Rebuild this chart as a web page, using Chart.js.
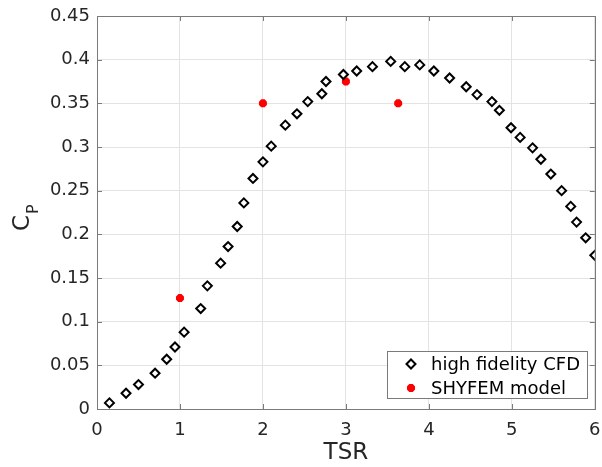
<!DOCTYPE html>
<html><head><meta charset="utf-8">
<script src="https://cdn.jsdelivr.net/npm/chart.js@4"></script>
<style>html,body{margin:0;padding:0;background:#fff}#wrap{width:602px;height:467px}</style>
</head><body><div id="wrap"><canvas id="c" width="602" height="467"></canvas></div>
<script>
// ---- data ----
const tsrCfd = [0.15, 0.35, 0.50, 0.70, 0.84, 0.94, 1.05, 1.25, 1.33, 1.49, 1.58, 1.69, 1.77, 1.88, 2.00, 2.10, 2.27, 2.41, 2.54, 2.71, 2.76, 2.97, 3.13, 3.32, 3.54, 3.71, 3.89, 4.06, 4.25, 4.45, 4.58, 4.76, 4.85, 4.99, 5.10, 5.25, 5.35, 5.47, 5.60, 5.71, 5.78, 5.89, 6.00];
const cpCfd  = [0.007, 0.018, 0.028, 0.041, 0.057, 0.071, 0.088, 0.115, 0.141, 0.167, 0.186, 0.209, 0.236, 0.264, 0.283, 0.301, 0.325, 0.338, 0.352, 0.361, 0.375, 0.383, 0.387, 0.392, 0.398, 0.392, 0.394, 0.387, 0.379, 0.369, 0.360, 0.352, 0.342, 0.322, 0.311, 0.299, 0.286, 0.269, 0.250, 0.232, 0.214, 0.196, 0.176];
const tsrShyfem = [1.00, 2.00, 3.00, 3.63];
const cpShyfem  = [0.127, 0.350, 0.375, 0.350];
const seriesNames = ['high fidelity CFD', 'SHYFEM model'];
const xTickValues = [0, 1, 2, 3, 4, 5, 6];
const yTickValues = [0, 0.05, 0.1, 0.15, 0.2, 0.25, 0.3, 0.35, 0.4, 0.45];
const xTitle = 'TSR';
const yTitleMain = 'C';
const yTitleSub = 'P';

const FONT = '"DejaVu Sans", sans-serif';
const AXIS_COLOR = '#7a7a7a';
const TEXT_COLOR = '#262626';

const toPts = (xs, ys) => xs.map((x, i) => ({x, y: ys[i]}));

const decorPlugin = {
  id: 'decor',
  afterDraw(chart) {
    const ctx = chart.ctx;
    const a = chart.chartArea;
    const xs = chart.scales.x, ys = chart.scales.y;
    ctx.save();
    // box
    ctx.strokeStyle = AXIS_COLOR;
    ctx.lineWidth = 1;
    ctx.strokeRect(Math.round(a.left) + 0.5, Math.round(a.top) + 0.5, Math.round(a.right - a.left), Math.round(a.bottom - a.top));
    // inward ticks
    const tl = 5;
    ctx.beginPath();
    xTickValues.forEach(v => {
      const px = Math.round(xs.getPixelForValue(v)) + 0.5;
      ctx.moveTo(px, a.bottom); ctx.lineTo(px, a.bottom - tl);
      ctx.moveTo(px, a.top); ctx.lineTo(px, a.top + tl);
    });
    yTickValues.forEach(v => {
      const py = Math.round(ys.getPixelForValue(v)) + 0.5;
      ctx.moveTo(a.left, py); ctx.lineTo(a.left + tl, py);
      ctx.moveTo(a.right, py); ctx.lineTo(a.right - tl, py);
    });
    ctx.stroke();
    // y title C_P
    ctx.fillStyle = TEXT_COLOR;
    ctx.translate(29, 231);
    ctx.rotate(-Math.PI / 2);
    ctx.textAlign = 'left';
    ctx.textBaseline = 'alphabetic';
    ctx.font = '23px ' + FONT;
    ctx.fillText(yTitleMain, 0, 0);
    const w = ctx.measureText(yTitleMain).width;
    ctx.font = '16px ' + FONT;
    ctx.fillText(yTitleSub, w + 1, 9);
    ctx.restore();

    // legend
    ctx.save();
    const lx = 387.5, ly = 351.5, lw = 200, lh = 47;
    ctx.fillStyle = '#ffffff';
    ctx.fillRect(lx, ly, lw, lh);
    ctx.strokeStyle = AXIS_COLOR;
    ctx.lineWidth = 1;
    ctx.strokeRect(lx, ly, lw, lh);
    ctx.font = '18px ' + FONT;
    ctx.textBaseline = 'middle';
    ctx.textAlign = 'left';
    chart.data.datasets.forEach((ds, i) => {
      const cy = 364 + i * 24;
      ctx.save();
      ctx.strokeStyle = ds.borderColor;
      ctx.fillStyle = ds.backgroundColor;
      ctx.lineWidth = ds.borderWidth;
      Chart.helpers.drawPoint(ctx, {
        pointStyle: ds.pointStyle, radius: ds.pointRadius, borderWidth: ds.borderWidth, rotation: 0
      }, 411, cy);
      ctx.restore();
      ctx.fillStyle = '#000';
      ctx.fillText(ds.label, 431, cy + 1);
    });
    ctx.restore();
  }
};

new Chart(document.getElementById('c'), {
  type: 'scatter',
  data: {
    datasets: [
      {
        label: seriesNames[0],
        data: toPts(tsrCfd, cpCfd),
        pointStyle: 'rectRot',
        pointRadius: 4.5,
        pointHoverRadius: 4.5,
        borderWidth: 2,
        borderColor: '#000',
        backgroundColor: 'rgba(255,255,255,0)'
      },
      {
        label: seriesNames[1],
        data: toPts(tsrShyfem, cpShyfem),
        pointStyle: 'star',
        pointRadius: 4,
        pointHoverRadius: 4,
        borderWidth: 3.2,
        borderColor: '#ff0000',
        backgroundColor: '#ff0000'
      }
    ]
  },
  options: {
    responsive: false,
    animation: false,
    devicePixelRatio: 1,
    layout: { padding: { left: 0, right: 5, top: 16, bottom: 0 } },
    plugins: { legend: { display: false }, tooltip: { enabled: false } },
    scales: {
      x: {
        type: 'linear', min: 0, max: 6,
        afterFit(s) { s.height = 58; s.paddingLeft = 0; s.paddingRight = 0; },
        afterBuildTicks(s) { s.ticks = xTickValues.map(v => ({value: v})); },
        grid: { color: '#e3e3e3', drawTicks: false, lineWidth: 1 },
        border: { display: false },
        ticks: { padding: 11, color: TEXT_COLOR, font: { family: FONT, size: 18 }, callback: v => String(v) },
        title: { display: true, text: xTitle, color: TEXT_COLOR, font: { family: FONT, size: 23 }, padding: { top: 0, bottom: 0 } }
      },
      y: {
        type: 'linear', min: 0, max: 0.45,
        afterFit(s) { s.width = 97; s.paddingTop = 0; s.paddingBottom = 0; },
        afterBuildTicks(s) { s.ticks = yTickValues.map(v => ({value: v})); },
        grid: { color: '#e3e3e3', drawTicks: false, lineWidth: 1 },
        border: { display: false },
        ticks: { padding: 7, color: TEXT_COLOR, font: { family: FONT, size: 18 }, callback: v => String(+v.toFixed(2)) }
      }
    }
  },
  plugins: [decorPlugin]
});
</script>
</body></html>
